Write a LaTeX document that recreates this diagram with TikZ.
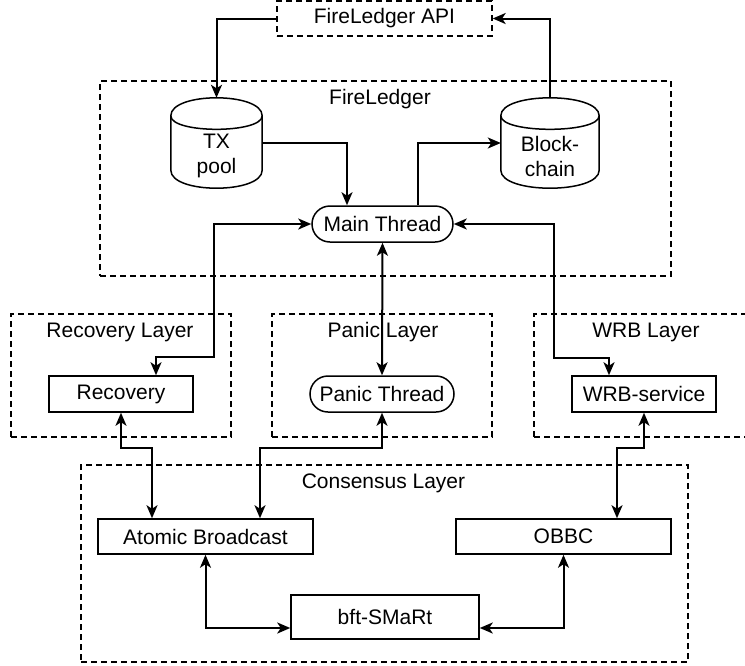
\documentclass[tikz,border=0pt]{standalone}
\usepackage{fontspec}
\setmainfont{Liberation Sans}
\usetikzlibrary{positioning,arrows.meta}

\tikzset{
  block/.style={draw, line width=1.5pt, inner sep=0pt, minimum height=36pt},
  thread/.style={block, rounded corners=18pt},
  layer/.style={draw, line width=1.3pt, dash pattern=on 6pt off 4pt, inner sep=0pt},
  store/.style={inner sep=0pt, minimum height=90pt},
  storetext/.style={align=center, yshift=-13pt},
  link/.style={line width=2pt},
}

% cylinder round a node (y grows downwards here)
\newcommand{\drawstore}[1]{%
  \draw[line width=1.5pt] ([yshift=18pt]#1.north west)
    .. controls ([yshift=-6pt]#1.north west) and ([yshift=-6pt]#1.north east) .. ([yshift=18pt]#1.north east)
    -- ([yshift=-18pt]#1.south east)
    .. controls ([yshift=6pt]#1.south east) and ([yshift=6pt]#1.south west) .. ([yshift=-18pt]#1.south west)
    -- cycle;
  \draw[line width=1.5pt] ([yshift=18pt]#1.north west)
    .. controls ([yshift=36pt]#1.north west) and ([yshift=36pt]#1.north east) .. ([yshift=18pt]#1.north east);
}

\begin{document}
\begin{tikzpicture}[x=1pt,y=1pt,yscale=-1,xscale=1,
  >={Stealth[length=13pt,width=11pt,inset=3.5pt]},
  font=\fontsize{21}{25}\selectfont]
\clip (0,0) rectangle (745,665);

% Layers
\node[layer, minimum width=215pt, minimum height=35pt] (api) at (384.5,18.5) {FireLedger API};
\node[layer, minimum width=571pt, minimum height=195pt] (fl) at (385.5,178.5) {};
\node[layer, minimum width=220pt, minimum height=123pt] (recl) at (121,375.5) {};
\node[layer, minimum width=220pt, minimum height=123pt] (panl) at (382,375.5) {};
\node[layer, minimum width=220pt, minimum height=123pt] (wrbl) at (644,375.5) {};
\node[layer, minimum width=607pt, minimum height=197pt] (cons) at (384.5,563.5) {};

% Layer names
\node (flname) at (380,99) {FireLedger};
\node (reclname) at (120,332) {Recovery Layer};
\node (panlname) at (383,332) {Panic Layer};
\node (wrblname) at (646,332) {WRB Layer};
\node (consname) at (383.5,483) {Consensus Layer};

% Components
\node[store, minimum width=91pt, label={[name=txpname,storetext]center:TX\\pool}] (txp) at (216.5,143) {};
\node[store, minimum width=98pt, label={[name=bcname,storetext]center:Block-\\chain}] (bc) at (550,143) {};
\drawstore{txp}
\drawstore{bc}
\node[thread, minimum width=141pt] (main) at (382.5,224) {Main Thread};
\node[block, minimum width=144pt] (rec) at (121,394) {Recovery};
\node[thread, minimum width=144pt] (pan) at (382,394) {Panic Thread};
\node[block, minimum width=144pt] (wrb) at (644,394) {WRB-service};
\node[block, minimum width=215pt, minimum height=35pt] (atb) at (205.5,536.5) {Atomic Broadcast};
\node[block, minimum width=215pt, minimum height=35pt] (obbc) at (563.5,536.5) {OBBC};
\node[block, minimum width=188pt, minimum height=44pt] (bft) at (385,617) {bft-SMaRt};

% Connectors
\draw[link,->] (api.west) -| (txp.north);
\draw[link,->] (bc.north) |- (api.east);
\draw[link,->] (txp.east) -| ([xshift=-35.5pt]main.north);
\draw[link,->] ([xshift=35.5pt]main.north) |- (bc.west);
\draw[link,<->] (main.west) -| (214,357) -| ([xshift=35pt]rec.north);
\draw[link,<->] (main.south) -- (pan.north);
\draw[link,<->] (main.east) -| (554,358) -| ([xshift=-35pt]wrb.north);
\draw[link,<->] (rec.south) -- ++(0,35) -| ([xshift=-53.5pt]atb.north);
\draw[link,<->] (pan.south) -- ++(0,35) -| ([xshift=54.5pt]atb.north);
\draw[link,<->] (wrb.south) -- ++(0,35) -| ([xshift=53.5pt]obbc.north);
\draw[link,<->] (atb.south) |- ([yshift=11pt]bft.west);
\draw[link,<->] (obbc.south) |- ([yshift=11pt]bft.east);

\end{tikzpicture}
\end{document}
